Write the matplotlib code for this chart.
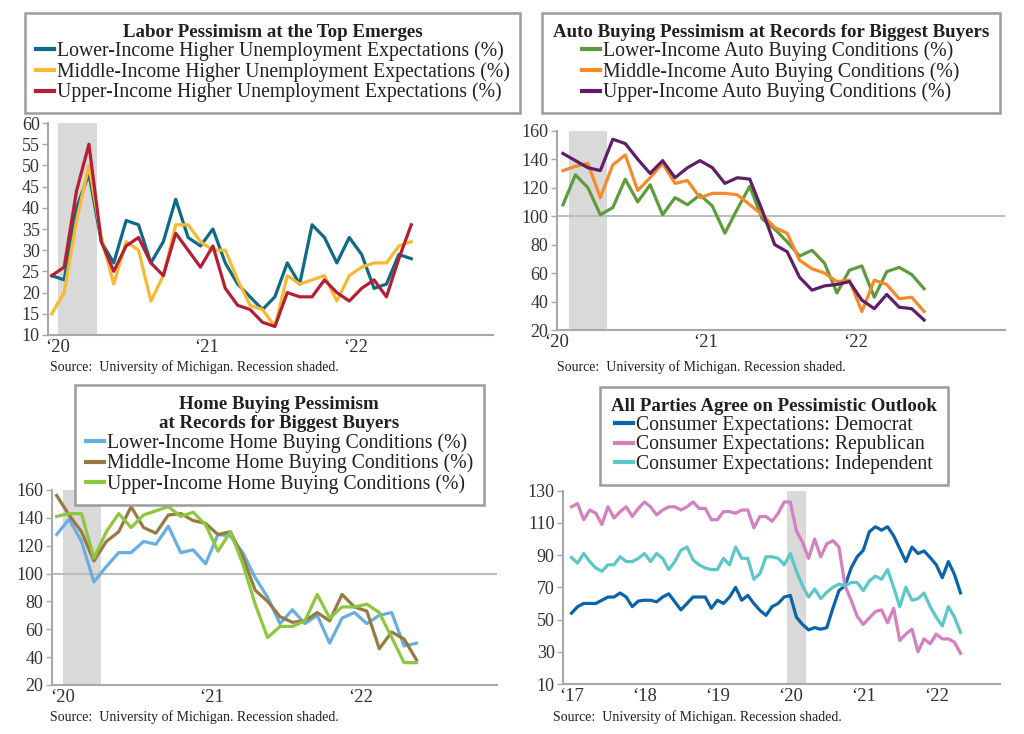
import matplotlib

matplotlib.use("Agg")
import matplotlib.pyplot as plt
from matplotlib.lines import Line2D

plt.rcParams["font.family"] = ["Liberation Serif", "DejaVu Serif"]

# Higher unemployment expectations (%), monthly Jan-2020 .. Jun-2022
labor_lower = [24, 23, 40, 48, 32, 27, 37, 36, 27, 32, 42, 33, 31, 35, 27, 22, 19, 16,
               19, 27, 22, 36, 33, 27, 33, 29, 21, 22, 29, 28]
labor_middle = [15, 20, 37, 50, 33, 22, 32, 30, 18, 24, 36, 36, 32, 30, 30, 23, 17, 16,
                12, 24, 22, 23, 24, 18, 24, 26, 27, 27, 31, 32]
labor_upper = [24, 26, 44, 55, 32, 25, 31, 33, 27, 24, 34, 30, 26, 31, 21, 17, 16, 13,
               12, 20, 19, 19, 23, 20, 18, 21, 23, 19, 28, 36]

# Auto buying conditions, monthly Jan-2020 .. Jun-2022
auto_lower = [108, 129, 120, 101, 106, 126, 110, 122, 101, 113, 108, 115, 107, 88, 105,
              121, 98, 91, 82, 72, 76, 67, 46, 62, 65, 43, 61, 64, 59, 49]
auto_middle = [132, 135, 137, 113, 136, 143, 118, 127, 137, 123, 125, 113, 116, 116, 115,
               108, 101, 92, 88, 69, 63, 60, 54, 55, 33, 55, 52, 42, 43, 33]
auto_upper = [144, 139, 134, 132, 154, 151, 140, 130, 139, 127, 134, 139, 134, 123, 127,
              126, 104, 80, 75, 57, 48, 51, 52, 54, 41, 35, 45, 36, 35, 27]

# Home buying conditions, monthly Jan-2020 .. Jun-2022
home_lower = [128, 139, 123, 94, 105, 115, 115, 123, 121, 134, 115, 117, 107, 128, 127,
              115, 97, 83, 64, 74, 64, 70, 50, 68, 72, 64, 70, 72, 48, 50]
home_middle = [156, 142, 130, 109, 123, 130, 148, 133, 129, 142, 143, 138, 136, 128, 130,
               112, 88, 80, 69, 65, 66, 72, 66, 85, 76, 73, 46, 58, 53, 38]
home_upper = [141, 143, 143, 111, 130, 143, 133, 142, 145, 148, 141, 144, 135, 116, 130,
              107, 78, 54, 62, 62, 66, 85, 68, 76, 76, 78, 72, 54, 36, 36]

# Consumer expectations by party, monthly Jan-2017 .. May-2022
exp_dem = [54, 58, 60, 60, 60, 62, 64, 64, 66.5, 64, 58, 61.5, 62, 62, 61, 64, 66, 61,
           56, 60, 64, 64, 64, 57, 62, 60, 64, 70, 62, 65, 60,
           55.7, 52.6, 58, 60, 64, 65, 51.5, 47, 43.6, 45, 44, 45, 57, 68, 71, 82, 89,
           93, 104.5, 107.6, 105.5, 107.6, 102, 94, 86, 95, 91, 92.6, 88.5, 84, 76, 86,
           78, 66.5]
exp_rep = [120, 122, 112, 118, 116, 109, 120, 113, 117, 120, 114, 119, 123, 120, 115,
           118, 120, 120, 118, 120, 123, 119, 119, 112, 112, 117, 117, 116, 118, 118, 107,
           114, 114, 111, 116, 123, 123, 105, 98, 88, 100, 89, 97, 99, 95, 71, 62, 52,
           47, 51, 55, 56, 48, 57, 37, 41, 44, 30, 38, 35, 41, 38, 38, 36, 29]
exp_ind = [88.5, 85, 91, 86, 82, 80, 84, 84, 89, 86, 86, 88, 91, 86, 91, 88, 81, 86, 93,
           95, 87, 84, 82, 81, 81, 88, 84, 95, 88, 88, 75,
           78.5, 89, 89, 88, 84, 91, 80, 71, 64, 69, 63, 67, 70, 72, 71, 73, 73, 68, 74,
           77, 75, 81, 70, 58, 70, 62, 63, 66.5, 58, 51.5, 46, 58, 51.5, 42]

year_labels_short = ["\u201820", "\u201821", "\u201822"]
year_labels_long = ["\u201817", "\u201818", "\u201819", "\u201820", "\u201821", "\u201822"]

SPINE = "#a8a8a8"
TEXT = "#231f20"
SHADE = "#d9d9d9"
LW = 2.3
SOURCE = "Source:  University of Michigan. Recession shaded."

fig = plt.figure(figsize=(10.24, 7.34), dpi=100)


def style_axes(ax, ylim, yticks, xlim, xticks, xlabels, ref100=False):
    ax.set_ylim(*ylim)
    ax.set_xlim(*xlim)
    ax.set_yticks(yticks)
    ax.set_xticks(xticks)
    ax.set_xticklabels(xlabels)
    for side in ("top", "right"):
        ax.spines[side].set_visible(False)
    for side in ("left", "bottom"):
        ax.spines[side].set_color(SPINE)
        ax.spines[side].set_linewidth(1.5)
    ax.tick_params(axis="y", length=4, width=1, color=SPINE, pad=2,
                   labelsize=13, labelcolor="#333333")
    ax.tick_params(axis="x", length=0, pad=3, labelsize=13.5, labelcolor="#333333")
    if ref100:
        ax.axhline(100, color="#bdbdbd", lw=1.5, zorder=1)


def add_box(handles, labels, title, anchor):
    leg = fig.legend(handles, labels, title=title, loc="upper left",
                     bbox_to_anchor=anchor, bbox_transform=fig.transFigure,
                     frameon=True, fancybox=False, framealpha=1, edgecolor="#9c9c9c",
                     fontsize=14.2, title_fontproperties={"weight": "bold", "size": 13.6},
                     handlelength=0.9, handletextpad=0.15, labelspacing=0.04,
                     borderpad=0.55, borderaxespad=0)
    leg.get_frame().set_linewidth(1.8)
    leg.get_title().set_multialignment("center")
    for t in leg.get_texts():
        t.set_color(TEXT)
    leg.get_title().set_color(TEXT)
    return leg


def handles_for(colors):
    return [Line2D([0], [0], color=c, lw=3) for c in colors]


# ---------- Panel 1: labor ----------
ax1 = fig.add_axes([0.0469, 0.5436, 0.4346, 0.2888])
c1 = ["#0e6a86", "#f8b932", "#b51f35"]
ax1.axvspan(0.5, 3.65, color=SHADE, lw=0, zorder=0)
for s, c in zip([labor_lower, labor_middle, labor_upper], c1):
    ax1.plot(range(len(s)), s, color=c, lw=LW, zorder=3)
style_axes(ax1, (10, 60), range(10, 61, 5), (-0.3, 35.6), [0.5, 12.5, 24.5],
           year_labels_short)
fig.text(50 / 1024, 1 - 367 / 734, SOURCE, fontsize=10, color=TEXT, va="center")
add_box(handles_for(c1),
        ["Lower-Income Higher Unemployment Expectations (%)",
         "Middle-Income Higher Unemployment Expectations (%)",
         "Upper-Income Higher Unemployment Expectations (%)"],
        "Labor Pessimism at the Top Emerges", (25 / 1024, 1 - 13 / 734))

# ---------- Panel 2: auto ----------
ax2 = fig.add_axes([0.5437, 0.5504, 0.4378, 0.2715])
c2 = ["#5e9b3c", "#f58a2a", "#5e1f66"]
ax2.axvspan(0.5, 3.5, color=SHADE, lw=0, zorder=0)
for s, c in zip([auto_lower, auto_middle, auto_upper], c2):
    ax2.plot(range(len(s)), s, color=c, lw=LW, zorder=3)
style_axes(ax2, (20, 160), range(20, 161, 20), (-0.4, 35.5), [-0.5, 11.5, 23.5],
           year_labels_short, ref100=True)
fig.text(557 / 1024, 1 - 367 / 734, SOURCE, fontsize=10, color=TEXT, va="center")
add_box(handles_for(c2),
        ["Lower-Income Auto Buying Conditions (%)",
         "Middle-Income Auto Buying Conditions (%)",
         "Upper-Income Auto Buying Conditions (%)"],
        "Auto Buying Pessimism at Records for Biggest Buyers",
        (542 / 1024, 1 - 13 / 734))

# ---------- Panel 3: home ----------
ax3 = fig.add_axes([0.0505, 0.0668, 0.435, 0.2657])
c3 = ["#69aee3", "#977a3f", "#8dc63f"]
ax3.axvspan(0.53, 3.6, color=SHADE, lw=0, zorder=0)
for s, c in zip([home_lower, home_middle, home_upper], c3):
    ax3.plot(range(len(s)), s, color=c, lw=LW, zorder=3)
style_axes(ax3, (20, 160), range(20, 161, 20), (-0.4, 35.5), [0.5, 12.5, 24.5],
           year_labels_short, ref100=True)
fig.text(50 / 1024, 1 - 717 / 734, SOURCE, fontsize=10, color=TEXT, va="center")
add_box(handles_for(c3),
        ["Lower-Income Home Buying Conditions (%)",
         "Middle-Income Home Buying Conditions (%)",
         "Upper-Income Home Buying Conditions (%)"],
        "Home Buying Pessimism\nat Records for Biggest Buyers",
        (75 / 1024, 1 - 385 / 734))

# ---------- Panel 4: party expectations ----------
ax4 = fig.add_axes([0.5498, 0.0681, 0.4268, 0.2634])
c4 = ["#0b63a9", "#d47fbf", "#5cc6c8"]
ax4.axvspan(35.5, 38.6, color=SHADE, lw=0, zorder=0)
for s, c in zip([exp_dem, exp_rep, exp_ind], c4):
    ax4.plot(range(len(s)), s, color=c, lw=LW, zorder=3)
style_axes(ax4, (10, 130), range(10, 131, 20), (-1.4, 70.5), [0, 12, 24, 36, 48, 60],
           year_labels_long)
fig.text(553 / 1024, 1 - 717 / 734, SOURCE, fontsize=10, color=TEXT, va="center")
add_box(handles_for(c4),
        ["Consumer Expectations: Democrat",
         "Consumer Expectations: Republican",
         "Consumer Expectations: Independent"],
        "All Parties Agree on Pessimistic Outlook",
        (600 / 1024, 1 - 387 / 734))

fig.savefig("out.png", dpi=100)
